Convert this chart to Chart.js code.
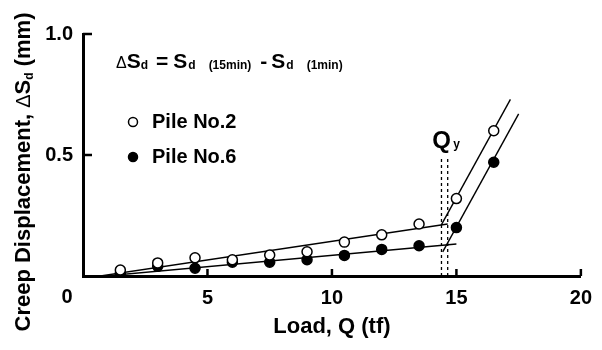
<!DOCTYPE html>
<html>
<head>
<meta charset="utf-8">
<script src="https://cdn.jsdelivr.net/npm/chart.js@4.4.1/dist/chart.umd.min.js"></script>
<style>
  html, body { margin: 0; padding: 0; background: #fff; }
</style>
</head>
<body>
<canvas id="creepChart" width="602" height="350"></canvas>
<script>
// load steps (tf) and creep displacement (mm) for each pile
const loads = [1.5, 3, 4.5, 6, 7.5, 9, 10.5, 12, 13.5, 15, 16.5];
const pile2 = [0.025, 0.054, 0.075, 0.067, 0.087, 0.10, 0.14, 0.17, 0.215, 0.32, 0.60];
const pile6 = [0.011, 0.04, 0.032, 0.057, 0.057, 0.067, 0.085, 0.11, 0.125, 0.20, 0.47];

// fitted straight lines, [load, displacement] end points
const pile2Creep = [[0.7, 0], [14.65, 0.215]];
const pile2Yield = [[14.39, 0.21], [17.17, 0.73]];
const pile6Creep = [[0.9, 0], [15.0, 0.132]];
const pile6Yield = [[14.45, 0.10], [17.5, 0.67]];

// yield loads Qy marked by dashed verticals
const qyLoads = [14.4, 14.65];
const qyTop = 0.49;

const xTicks = [0, 5, 10, 15, 20];
const yTicks = [0, 0.5, 1.0];

const FONT = "'Liberation Sans', Arial, sans-serif";

const toXY = pts => pts.map(p => ({ x: p[0], y: p[1] }));

function fitLine(pts) {
  return {
    data: toXY(pts),
    showLine: true,
    borderColor: '#000',
    borderWidth: 1.4,
    pointRadius: 0,
    order: 2
  };
}

function markers(values, fill) {
  return {
    data: loads.map((q, i) => ({ x: q, y: values[i] })),
    showLine: false,
    pointStyle: 'circle',
    pointRadius: 5,
    pointBorderWidth: 1.5,
    pointBorderColor: '#000',
    pointBackgroundColor: fill,
    order: 1
  };
}

const qyLines = qyLoads.map(q => ({
  data: [{ x: q, y: 0 }, { x: q, y: qyTop }],
  showLine: true,
  borderColor: '#000',
  borderWidth: 1.3,
  borderDash: [3, 3],
  pointRadius: 0,
  order: 3
}));

// draws a run of [text, font, baseline shift, gap after] pieces from x0
function drawRun(ctx, pieces, x0, y0) {
  let cx = x0;
  pieces.forEach(p => {
    ctx.font = p[1];
    ctx.fillText(p[0], cx, y0 + p[2]);
    cx += ctx.measureText(p[0]).width + (p[3] || 0);
  });
  return cx;
}

function runWidth(ctx, pieces) {
  let w = 0;
  pieces.forEach(p => { ctx.font = p[1]; w += ctx.measureText(p[0]).width + (p[3] || 0); });
  return w;
}

// everything drawn on top of the axes: inward ticks, labels, formula, key
const annotations = {
  id: 'annotations',
  afterDraw(chart) {
    const { ctx, scales: { x, y } } = chart;
    ctx.save();
    ctx.strokeStyle = '#000';
    ctx.fillStyle = '#000';

    ctx.lineWidth = 2.5;
    xTicks.slice(1).forEach(v => {
      const px = x.getPixelForValue(v);
      ctx.beginPath();
      ctx.moveTo(px, y.bottom);
      ctx.lineTo(px, y.bottom - 7);
      ctx.stroke();
    });
    yTicks.slice(1).forEach(v => {
      const py = y.getPixelForValue(v);
      ctx.beginPath();
      ctx.moveTo(x.left, py);
      ctx.lineTo(x.left + 9, py);
      ctx.stroke();
    });

    // shared origin label
    ctx.font = `bold 20px ${FONT}`;
    ctx.textAlign = 'center';
    ctx.textBaseline = 'middle';
    ctx.fillText('0', x.left - 16, y.bottom + 21);

    ctx.textAlign = 'left';
    ctx.textBaseline = 'alphabetic';

    // y axis title with subscript
    const big = `bold 22px ${FONT}`;
    const sub = `bold 12px ${FONT}`;
    const yTitle = [
      ['Creep Displacement, ', big, 0],
      ['\u0394', `20px ${FONT}`, 0],
      ['S', big, 0],
      ['d', sub, 3],
      [' (mm)', big, 0]
    ];
    ctx.save();
    ctx.translate(22, (y.top + y.bottom) / 2 + 17);
    ctx.rotate(-Math.PI / 2);
    drawRun(ctx, yTitle, -runWidth(ctx, yTitle) / 2, 8);
    ctx.restore();

    // definition of the creep displacement
    const S = `bold 21px ${FONT}`;
    const s = `bold 12px ${FONT}`;
    const formula = [
      ['\u0394', `16px ${FONT}`, 0, 0],
      ['S', S, 0, 0],
      ['d', s, 1, 8],
      ['=', S, 0, 5],
      ['S', S, 0, 1],
      ['d', s, 1, 13],
      ['(15min)', s, 1, 9],
      ['-', S, 0, 4],
      ['S', S, 0, 1],
      ['d', s, 1, 13],
      ['(1min)', s, 1, 0]
    ];
    drawRun(ctx, formula, 116, 68);

    // key
    const key = [['Pile No.2', '#fff'], ['Pile No.6', '#000']];
    key.forEach((k, i) => {
      const ky = 122 + i * 35;
      ctx.beginPath();
      ctx.arc(133, ky, 4.5, 0, Math.PI * 2);
      ctx.fillStyle = k[1];
      ctx.fill();
      ctx.lineWidth = 1.5;
      ctx.stroke();
      ctx.fillStyle = '#000';
      ctx.font = `bold 20px ${FONT}`;
      ctx.textBaseline = 'middle';
      ctx.fillText(k[0], 152, ky);
    });

    // yield load label
    const qx = x.getPixelForValue((qyLoads[0] + qyLoads[1]) / 2);
    ctx.textBaseline = 'alphabetic';
    ctx.textAlign = 'center';
    ctx.font = `bold 24px ${FONT}`;
    ctx.fillText('Q', qx - 3, 148);
    ctx.font = `bold 12px ${FONT}`;
    ctx.fillText('y', qx + 12, 148);

    ctx.restore();
  }
};

new Chart(document.getElementById('creepChart'), {
  type: 'scatter',
  data: {
    datasets: [
      markers(pile2, '#fff'),
      markers(pile6, '#000'),
      fitLine(pile2Creep),
      fitLine(pile2Yield),
      fitLine(pile6Creep),
      fitLine(pile6Yield),
      ...qyLines
    ]
  },
  options: {
    responsive: false,
    animation: false,
    layout: { padding: { top: 34, right: 15, left: 0, bottom: 0 } },
    plugins: { legend: { display: false }, tooltip: { enabled: false } },
    scales: {
      x: {
        type: 'linear',
        min: 0,
        max: 20,
        afterBuildTicks: scale => { scale.ticks = xTicks.map(v => ({ value: v })); },
        afterFit: scale => { scale.height = 74; },
        grid: { display: false, drawTicks: false },
        border: { display: true, width: 3, color: '#000' },
        ticks: {
          color: '#000',
          padding: 10,
          font: { family: FONT, size: 20, weight: 'bold' },
          callback: v => (v === 0 ? '' : v)
        },
        title: {
          display: true,
          text: 'Load, Q (tf)',
          color: '#000',
          font: { family: FONT, size: 22, weight: 'bold' },
          padding: { top: 4, bottom: 10 }
        }
      },
      y: {
        type: 'linear',
        min: 0,
        max: 1.0,
        afterBuildTicks: scale => { scale.ticks = yTicks.map(v => ({ value: v })); },
        afterFit: scale => { scale.width = 83; },
        grid: { display: false, drawTicks: false },
        border: { display: true, width: 3, color: '#000' },
        ticks: {
          color: '#000',
          padding: 10,
          font: { family: FONT, size: 20, weight: 'bold' },
          callback: v => (v === 0 ? '' : v.toFixed(1))
        }
      }
    }
  },
  plugins: [annotations]
});
</script>
</body>
</html>
